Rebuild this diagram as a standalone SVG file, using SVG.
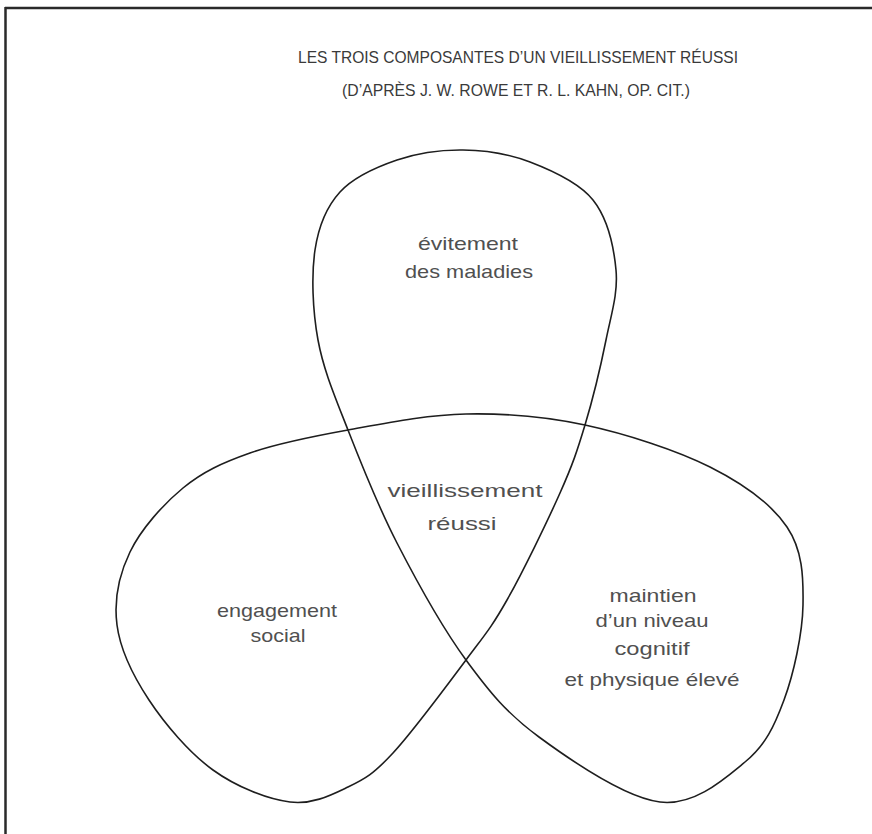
<svg xmlns="http://www.w3.org/2000/svg" width="872" height="834" viewBox="0 0 872 834">
<style>
.frame{stroke:#2a2a2a;stroke-width:2.5;fill:none}
.curve{stroke:#1e1e1e;stroke-width:1.6;fill:none}
.title{font-family:"Liberation Sans",Arial,sans-serif;font-size:16.5px;fill:#3a3a3a;text-anchor:middle}
.lbl{font-family:"Liberation Sans",Arial,sans-serif;font-size:19px;fill:#505050;text-anchor:middle}
</style>
<rect width="872" height="834" fill="#ffffff"/>
<g id="frame">
<line class="frame" x1="5" y1="8" x2="872" y2="8"/>
<line class="frame" x1="5.5" y1="7" x2="5.5" y2="834"/>
</g>
<g id="title">
<text class="title" x="518" y="63" textLength="440" lengthAdjust="spacingAndGlyphs">LES TROIS COMPOSANTES D’UN VIEILLISSEMENT RÉUSSI</text>
<text class="title" x="516" y="96" textLength="348" lengthAdjust="spacingAndGlyphs">(D’APRÈS J. W. ROWE ET R. L. KAHN, OP. CIT.)</text>
</g>
<g id="connectors">
<path class="curve" d="M466,660 C489.7,692.3 506.7,713.3 539,737 C571.3,760.7 625.7,797.8 660,802 C694.3,806.2 724.3,779 745,762 C765.7,745 774.3,726.2 784,700 C793.7,673.8 802.5,633.8 803,605 C803.5,576.2 802.5,550 787,527 C771.5,504 743.7,484 710,467 C676.3,450 625.7,433.8 585,425 C544.3,416.2 505.5,413.2 466,414 C426.5,414.8 384,423.5 348,430 C312,436.5 277.5,443.3 250,453 C222.5,462.7 203,471.5 183,488 C163,504.5 141,529.2 130,552 C119,574.8 113.8,600.3 117,625 C120.2,649.7 133,675.8 149,700 C165,724.2 189.5,753 213,770 C236.5,787 267.5,799.2 290,802 C312.5,804.8 330.8,795.2 348,787 C365.2,778.8 373.3,774.2 393,753 C412.7,731.8 447,685.5 466,660 C485,634.5 491.3,627.8 507,600 C522.7,572.2 547,522.2 560,493 C573,463.8 577.3,450.5 585,425 C592.7,399.5 600.8,365.8 606,340 C611.2,314.2 618.2,293.3 616,270 C613.8,246.7 607.3,218 593,200 C578.7,182 551.7,170.3 530,162 C508.3,153.7 485.2,150.3 463,150 C440.8,149.7 417.5,153 397,160 C376.5,167 353.7,177 340,192 C326.3,207 318.7,225.3 315,250 C311.3,274.7 312.5,310 318,340 C323.5,370 334.8,396.2 348,430 C361.2,463.8 377.3,504.7 397,543 C416.7,581.3 442.3,627.7 466,660 Z"/>
</g>
<g id="node-evitement">
<text class="lbl" x="468" y="250" textLength="100" lengthAdjust="spacingAndGlyphs">évitement</text>
<text class="lbl" x="469" y="278" textLength="128" lengthAdjust="spacingAndGlyphs">des maladies</text>
</g>
<g id="node-vieillissement">
<text class="lbl" x="465" y="497" textLength="155" lengthAdjust="spacingAndGlyphs">vieillissement</text>
<text class="lbl" x="462" y="530" textLength="69" lengthAdjust="spacingAndGlyphs">réussi</text>
</g>
<g id="node-engagement">
<text class="lbl" x="277" y="617" textLength="120" lengthAdjust="spacingAndGlyphs">engagement</text>
<text class="lbl" x="278" y="642" textLength="55" lengthAdjust="spacingAndGlyphs">social</text>
</g>
<g id="node-maintien">
<text class="lbl" x="653" y="602" textLength="87" lengthAdjust="spacingAndGlyphs">maintien</text>
<text class="lbl" x="652" y="627" textLength="113" lengthAdjust="spacingAndGlyphs">d’un niveau</text>
<text class="lbl" x="652" y="655" textLength="75" lengthAdjust="spacingAndGlyphs">cognitif</text>
<text class="lbl" x="652" y="686" textLength="175" lengthAdjust="spacingAndGlyphs">et physique élevé</text>
</g>
</svg>
